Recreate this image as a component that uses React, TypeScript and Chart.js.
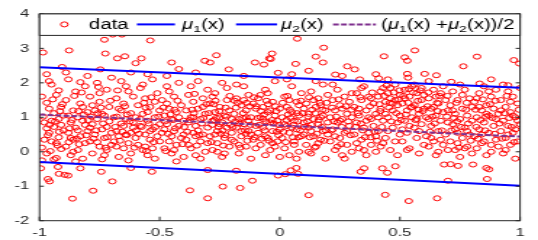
import React, { useEffect, useRef } from 'react';
import { Chart, registerables } from 'chart.js';

Chart.register(...registerables);

// ---------- data ----------
const dataPoints: [number, number][] = [
  // outliers above the upper line region
  [-0.985, 2.88], [-0.877, 2.94], [-0.73, 3.25], [-0.695, 3.4], [-0.657, 3.4], [-0.539, 3.23], [-0.726, 2.85],
  [-0.676, 2.71], [-0.645, 2.77], [-0.576, 2.71], [-0.6, 2.57], [-0.45, 2.59], [-0.312, 2.64], [-0.29, 2.59],
  [-0.264, 2.8], [-0.103, 2.59], [-0.043, 2.71], [-0.42, 2.4], [-0.747, 2.39], [-0.906, 2.46], [0.073, 3.28],
  [0.183, 3.02], [-0.032, 2.85], [0.15, 2.76], [0.18, 2.59], [0.434, 2.77], [0.52, 2.74], [0.562, 2.94],
  [0.821, 2.76], [0.974, 2.66], [-0.038, 2.69], [-0.066, 2.53], [0.066, 2.55], [0.281, 2.48], [0.312, 2.39],
  [-0.007, 2.29], [-0.212, 2.39], [0.231, 2.24], [0.531, 2.64], [0.997, 2.56], [0.764, 2.48], [0.531, 2.26],
  [0.603, 2.26], [0.652, 2.22], [0.412, 2.13], [0.534, 2.15], [0.333, 2.1], [0.714, 2.03], [0.95, 1.93], [0.832, 1.98],
  [-0.97, 2.25], [-0.89, 2.3], [-0.8, 2.2], [-0.62, 2.3], [-0.55, 2.25], [-0.47, 2.2], [-0.35, 2.3], [-0.15, 2.2],
  [0.05, 2.25], [0.12, 2.35], [0.26, 2.2], [0.45, 2.1], [0.62, 2.05], [0.88, 2.1], [0.4, 2.25],
  // outliers below
  [-0.995, -0.48], [-0.923, -0.44], [-0.919, -0.64], [-0.895, -0.67], [-0.881, -0.69], [-0.965, -0.79], [-0.958, -0.86],
  [-0.863, -1.36], [-0.777, -1.13], [-0.743, -0.58], [-0.83, -0.48], [-0.697, -0.86], [-0.62, -0.47], [-0.532, -0.58],
  [-0.374, -1.12], [-0.3, -1.35], [-0.237, -1.01], [-0.165, -1.05], [-0.114, -0.84], [-0.007, -0.69], [0.023, -0.65],
  [0.076, -0.64], [0.12, -1.26], [-0.3, -0.53], [-0.181, -0.55], [0.069, -0.47], [0.046, -0.54], [0.439, -1.25],
  [0.537, -1.43], [0.655, -1.35], [0.7, -0.84], [0.863, -0.79], [0.804, -0.37], [0.86, -0.47], [0.871, -0.51],
  [0.684, -0.37], [0.711, -0.36], [0.742, -0.41], [0.448, -0.61], [0.427, -0.48], [0.481, -0.42], [0.351, -0.48], [0.337, -0.58],
  // dense band
  [-0.99, 0.12], [-0.98, 0.85], [-0.97, 1.42], [-0.97, -0.05], [-0.96, 0.55], [-0.95, 1.95], [-0.95, 0.3], [-0.94, 1.12],
  [-0.94, 0.72], [-0.93, -0.18], [-0.93, 1.65], [-0.92, 0.42], [-0.92, 0.95], [-0.91, 1.3], [-0.91, 0.08], [-0.9, 0.62],
  [-0.99, 1.6], [-0.98, 0.35], [-0.96, 2.05], [-0.95, 0.9], [-0.94, -0.22], [-0.93, 0.25], [-0.92, 1.78], [-0.91, 0.78],
  [-0.97, 0.68], [-0.9, 1.05], [-0.96, 1.25], [-0.99, -0.25],
  [-0.89, 0.15], [-0.89, 1.5], [-0.88, 0.55], [-0.88, 2.1], [-0.87, 0.85], [-0.87, -0.1], [-0.86, 1.2], [-0.86, 0.35],
  [-0.85, 1.75], [-0.85, 0.7], [-0.84, 0.05], [-0.84, 1.0], [-0.83, 1.4], [-0.83, 0.45], [-0.82, -0.2], [-0.82, 0.9],
  [-0.81, 1.9], [-0.81, 0.25], [-0.8, 1.15], [-0.8, 0.6], [-0.88, 1.05], [-0.86, 0.0], [-0.84, 0.62], [-0.83, 2.02],
  [-0.82, 1.3], [-0.87, 0.4], [-0.85, -0.28], [-0.81, 0.78],
  [-0.79, 0.3], [-0.79, 1.6], [-0.78, 0.8], [-0.78, -0.05], [-0.77, 1.2], [-0.77, 0.5], [-0.76, 2.0], [-0.76, 0.95],
  [-0.75, 0.15], [-0.75, 1.45], [-0.74, 0.65], [-0.74, -0.22], [-0.73, 1.05], [-0.73, 0.4], [-0.72, 1.8], [-0.72, 0.05],
  [-0.71, 0.88], [-0.71, 1.3], [-0.7, 0.55], [-0.7, 2.15], [-0.78, 1.35], [-0.76, 0.28], [-0.74, 1.1], [-0.72, 0.72],
  [-0.7, 0.2], [-0.79, 0.7], [-0.75, 1.7], [-0.73, -0.1],
  [-0.69, 1.0], [-0.69, 0.3], [-0.68, 1.55], [-0.68, 0.6], [-0.67, -0.15], [-0.67, 1.25], [-0.66, 0.82], [-0.66, 2.05],
  [-0.65, 0.1], [-0.65, 1.4], [-0.64, 0.5], [-0.64, 0.95], [-0.63, 1.75], [-0.63, 0.25], [-0.62, 1.12], [-0.62, -0.05],
  [-0.61, 0.7], [-0.61, 1.6], [-0.6, 0.4], [-0.6, 1.0], [-0.68, 0.15], [-0.66, 1.2], [-0.64, 1.9], [-0.62, 0.55],
  [-0.61, 0.85], [-0.67, 0.45], [-0.63, -0.25], [-0.65, 0.75],
  [-0.59, 1.35], [-0.59, 0.2], [-0.58, 0.75], [-0.58, 1.85], [-0.57, 0.05], [-0.57, 1.1], [-0.56, 0.5], [-0.56, 1.55],
  [-0.55, -0.1], [-0.55, 0.9], [-0.54, 1.3], [-0.54, 0.35], [-0.53, 2.1], [-0.53, 0.65], [-0.52, 1.0], [-0.52, -0.2],
  [-0.51, 1.7], [-0.51, 0.45], [-0.5, 0.8], [-0.5, 1.2], [-0.58, 0.95], [-0.56, 0.15], [-0.54, 0.6], [-0.52, 1.45],
  [-0.5, 0.3], [-0.57, 1.95], [-0.55, 1.15], [-0.53, 0.1],
  [-0.49, 0.55], [-0.49, 1.5], [-0.48, 0.1], [-0.48, 1.05], [-0.47, 0.8], [-0.47, 1.9], [-0.46, 0.3], [-0.46, 1.25],
  [-0.45, -0.05], [-0.45, 0.95], [-0.44, 1.6], [-0.44, 0.6], [-0.43, 0.2], [-0.43, 1.15], [-0.42, 0.75], [-0.42, 2.0],
  [-0.41, 0.4], [-0.41, 1.35], [-0.4, -0.15], [-0.4, 0.9], [-0.48, 0.65], [-0.46, 1.75], [-0.44, 0.05], [-0.42, 1.0],
  [-0.4, 0.5], [-0.47, 1.4], [-0.45, 0.45], [-0.43, -0.28],
  [-0.39, 1.2], [-0.39, 0.35], [-0.38, 0.85], [-0.38, 1.65], [-0.37, 0.1], [-0.37, 1.0], [-0.36, 0.55], [-0.36, 1.45],
  [-0.35, -0.1], [-0.35, 0.75], [-0.34, 1.25], [-0.34, 2.05], [-0.33, 0.3], [-0.33, 0.95], [-0.32, 1.55], [-0.32, 0.5],
  [-0.31, 0.0], [-0.31, 1.1], [-0.3, 0.7], [-0.3, 1.8], [-0.38, 0.2], [-0.36, 1.0], [-0.34, 0.62], [-0.32, 1.3],
  [-0.3, 0.25], [-0.37, 1.9], [-0.35, 0.45], [-0.33, -0.2],
  [-0.29, 1.4], [-0.29, 0.45], [-0.28, 0.9], [-0.28, 0.05], [-0.27, 1.15], [-0.27, 1.7], [-0.26, 0.6], [-0.26, 0.25],
  [-0.25, 1.3], [-0.25, 0.8], [-0.24, 2.0], [-0.24, -0.15], [-0.23, 1.05], [-0.23, 0.4], [-0.22, 1.5], [-0.22, 0.7],
  [-0.21, 0.15], [-0.21, 1.2], [-0.2, 0.55], [-0.2, 0.95], [-0.28, 1.6], [-0.26, 0.0], [-0.24, 0.85], [-0.22, 1.85],
  [-0.2, 0.35], [-0.27, 0.5], [-0.25, 1.0], [-0.23, -0.05],
  [-0.19, 1.1], [-0.19, 0.3], [-0.18, 0.7], [-0.18, 1.55], [-0.17, -0.05], [-0.17, 0.95], [-0.16, 1.35], [-0.16, 0.45],
  [-0.15, 1.9], [-0.15, 0.8], [-0.14, 0.15], [-0.14, 1.2], [-0.13, 0.6], [-0.13, 1.65], [-0.12, -0.2], [-0.12, 1.0],
  [-0.11, 0.35], [-0.11, 1.4], [-0.1, 0.75], [-0.1, 0.1], [-0.18, 1.95], [-0.16, 0.6], [-0.14, 1.0], [-0.12, 0.5],
  [-0.1, 1.25], [-0.17, 0.2], [-0.15, 1.5], [-0.13, 0.9],
  [-0.09, 1.55], [-0.09, 0.55], [-0.08, 0.2], [-0.08, 1.0], [-0.07, 1.3], [-0.07, 0.7], [-0.06, -0.1], [-0.06, 1.8],
  [-0.05, 0.4], [-0.05, 1.15], [-0.04, 0.85], [-0.04, 0.05], [-0.03, 1.45], [-0.03, 0.6], [-0.02, 1.05], [-0.02, 2.05],
  [-0.01, 0.3], [-0.01, 0.9], [0.0, 1.25], [0.0, -0.15], [-0.08, 1.65], [-0.06, 0.45], [-0.04, 1.2], [-0.02, 0.15],
  [0.0, 0.65], [-0.07, 0.95], [-0.05, 1.7], [-0.03, 0.25],
  [0.01, 1.0], [0.01, 0.4], [0.02, 1.6], [0.02, 0.1], [0.03, 0.75], [0.03, 1.3], [0.04, -0.1], [0.04, 0.55],
  [0.05, 1.15], [0.05, 1.9], [0.06, 0.3], [0.06, 0.9], [0.07, 1.45], [0.07, 0.65], [0.08, 0.0], [0.08, 1.05],
  [0.09, 1.7], [0.09, 0.45], [0.1, 0.85], [0.1, 1.25], [0.02, 0.8], [0.04, 1.5], [0.06, 0.2], [0.08, 1.35],
  [0.1, 0.5], [0.03, 2.1], [0.05, 0.7], [0.07, -0.2],
  [0.11, 0.2], [0.11, 1.4], [0.12, 0.7], [0.12, 1.1], [0.13, -0.05], [0.13, 1.75], [0.14, 0.45], [0.14, 0.95],
  [0.15, 1.3], [0.15, 0.15], [0.16, 0.8], [0.16, 1.55], [0.17, 0.35], [0.17, 1.0], [0.18, 1.95], [0.18, 0.6],
  [0.19, -0.2], [0.19, 1.2], [0.2, 0.5], [0.2, 1.65], [0.12, 0.0], [0.14, 1.5], [0.16, 0.25], [0.18, 1.05],
  [0.2, 0.85], [0.13, 0.6], [0.15, 2.05], [0.17, 1.35],
  [0.21, 1.0], [0.21, 0.3], [0.22, 1.5], [0.22, 0.65], [0.23, 0.05], [0.23, 1.2], [0.24, 0.85], [0.24, 1.8],
  [0.25, 0.4], [0.25, 1.35], [0.26, -0.1], [0.26, 0.95], [0.27, 1.6], [0.27, 0.55], [0.28, 0.2], [0.28, 1.1],
  [0.29, 0.75], [0.29, 1.45], [0.3, 0.0], [0.3, 1.0], [0.22, 1.95], [0.24, 0.15], [0.26, 1.25], [0.28, 0.6],
  [0.3, 1.7], [0.23, 0.45], [0.25, 0.9], [0.27, -0.2],
  [0.31, 1.3], [0.31, 0.5], [0.32, 0.85], [0.32, 1.7], [0.33, 0.1], [0.33, 1.05], [0.34, 1.5], [0.34, 0.35],
  [0.35, 0.7], [0.35, 1.9], [0.36, -0.1], [0.36, 1.2], [0.37, 0.55], [0.37, 1.6], [0.38, 0.95], [0.38, 0.2],
  [0.39, 1.4], [0.39, 0.75], [0.4, 1.1], [0.4, 0.0], [0.32, 0.25], [0.34, 1.85], [0.36, 0.9], [0.38, 1.55],
  [0.4, 0.45], [0.33, 1.25], [0.35, 0.05], [0.37, 1.0],
  [0.41, 1.6], [0.41, 0.6], [0.42, 1.25], [0.42, 0.15], [0.43, 1.85], [0.43, 0.9], [0.44, 1.45], [0.44, 0.4],
  [0.45, 1.7], [0.45, 1.0], [0.46, 0.05], [0.46, 1.55], [0.47, 1.2], [0.47, 0.7], [0.48, 1.95], [0.48, 0.3],
  [0.49, 1.35], [0.49, 0.85], [0.5, 1.65], [0.5, 0.5], [0.42, 1.75], [0.44, 1.1], [0.46, 1.85], [0.48, 1.5],
  [0.5, 1.05], [0.43, 0.25], [0.45, 0.6], [0.47, 1.4], [0.49, -0.1], [0.41, 1.0],
  [0.51, 1.4], [0.51, 0.3], [0.52, 1.8], [0.52, 0.9], [0.53, 1.2], [0.53, 0.55], [0.54, 1.6], [0.54, 0.1],
  [0.55, 1.0], [0.55, 1.9], [0.56, 0.7], [0.56, 1.35], [0.57, 0.4], [0.57, 1.7], [0.58, 1.1], [0.58, -0.05],
  [0.59, 1.5], [0.59, 0.8], [0.6, 0.2], [0.6, 1.25], [0.52, 1.55], [0.54, 0.75], [0.56, 1.95], [0.58, 0.6],
  [0.6, 1.65], [0.53, 0.05], [0.55, 1.3], [0.57, 0.95], [0.59, 1.85], [0.51, 0.65],
  [0.61, 1.0], [0.61, 0.45], [0.62, 1.55], [0.62, 0.15], [0.63, 1.25], [0.63, 0.75], [0.64, 1.8], [0.64, 0.3],
  [0.65, 1.05], [0.65, -0.1], [0.66, 1.4], [0.66, 0.6], [0.67, 0.9], [0.67, 1.7], [0.68, 0.2], [0.68, 1.15],
  [0.69, 0.5], [0.69, 1.5], [0.7, 0.85], [0.7, 0.05], [0.62, 0.95], [0.64, 1.3], [0.66, 0.0], [0.68, 1.9],
  [0.7, 1.2], [0.63, 0.4], [0.65, 1.6], [0.67, 0.35],
  [0.71, 1.35], [0.71, 0.3], [0.72, 0.8], [0.72, 1.75], [0.73, 0.05], [0.73, 1.1], [0.74, 0.55], [0.74, 1.5],
  [0.75, -0.15], [0.75, 0.95], [0.76, 1.25], [0.76, 0.4], [0.77, 1.8], [0.77, 0.7], [0.78, 0.15], [0.78, 1.05],
  [0.79, 1.55], [0.79, 0.5], [0.8, 0.9], [0.8, -0.05], [0.72, 1.2], [0.74, 0.25], [0.76, 1.65], [0.78, 0.6],
  [0.8, 1.3], [0.73, 0.65], [0.75, 1.95], [0.77, 0.1],
  [0.81, 0.45], [0.81, 1.45], [0.82, 0.1], [0.82, 1.0], [0.83, 1.7], [0.83, 0.65], [0.84, 0.25], [0.84, 1.2],
  [0.85, 0.85], [0.85, 1.9], [0.86, -0.1], [0.86, 1.35], [0.87, 0.55], [0.87, 1.05], [0.88, 1.6], [0.88, 0.2],
  [0.89, 0.75], [0.89, 1.25], [0.9, 0.35], [0.9, 1.8], [0.82, 1.55], [0.84, 0.5], [0.86, 1.1], [0.88, 0.0],
  [0.9, 0.95], [0.83, 1.3], [0.85, 0.3], [0.87, 1.75],
  [0.91, 1.1], [0.91, 0.15], [0.92, 0.6], [0.92, 1.5], [0.93, 0.9], [0.93, -0.05], [0.94, 1.3], [0.94, 0.4],
  [0.95, 1.75], [0.95, 0.75], [0.96, 0.2], [0.96, 1.15], [0.97, 0.55], [0.97, 1.6], [0.98, 1.0], [0.98, -0.2],
  [0.99, 1.4], [0.99, 0.3], [1.0, 0.8], [1.0, 1.85], [0.92, 1.2], [0.94, 0.05], [0.96, 1.45], [0.98, 0.65],
  [0.93, 1.95], [0.95, 0.5], [0.97, 1.05], [0.99, 0.9],
  // extra core density
  [-0.965, 0.48], [-0.945, 1.52], [-0.925, 0.18], [-0.905, 1.38], [-0.985, 1.02], [-0.955, 0.02], [-0.935, 0.88], [-0.915, 1.18],
  [-0.875, 0.68], [-0.855, 1.62], [-0.835, 0.22], [-0.815, 1.08], [-0.865, 0.92], [-0.845, 0.38], [-0.825, 1.72], [-0.805, 0.48],
  [-0.785, 1.02], [-0.765, 0.62], [-0.745, 1.28], [-0.725, 0.12], [-0.705, 1.48], [-0.775, 0.38], [-0.755, 1.88], [-0.735, 0.82],
  [-0.685, 0.72], [-0.665, 0.32], [-0.645, 1.32], [-0.625, 0.88], [-0.605, 0.12], [-0.675, 1.78], [-0.655, 0.58], [-0.635, 1.08],
  [-0.585, 0.52], [-0.565, 1.42], [-0.545, 0.82], [-0.525, 0.28], [-0.505, 1.02], [-0.575, 0.72], [-0.555, 0.02], [-0.535, 1.58],
  [-0.485, 1.28], [-0.465, 0.52], [-0.445, 0.92], [-0.425, 1.48], [-0.405, 0.22], [-0.475, 0.02], [-0.455, 1.08], [-0.435, 0.68],
  [-0.385, 0.58], [-0.365, 1.22], [-0.345, 0.18], [-0.325, 0.82], [-0.305, 1.38], [-0.375, 0.92], [-0.355, 1.68], [-0.335, 0.48],
  [-0.285, 0.28], [-0.265, 0.98], [-0.245, 0.52], [-0.225, 1.28], [-0.205, 0.78], [-0.275, 1.38], [-0.255, 0.72], [-0.235, 0.18],
  [-0.185, 0.88], [-0.165, 0.12], [-0.145, 0.62], [-0.125, 1.32], [-0.105, 0.42], [-0.175, 1.42], [-0.155, 0.98], [-0.135, 0.32],
  [-0.085, 0.78], [-0.065, 1.08], [-0.045, 0.32], [-0.025, 0.82], [-0.005, 0.48], [-0.075, 0.38], [-0.055, 1.48], [-0.015, 1.18],
  [0.015, 0.58], [0.035, 1.08], [0.055, 0.42], [0.075, 0.88], [0.095, 1.12], [0.025, 0.28], [0.045, 0.98], [0.085, 0.62],
  [0.115, 0.88], [0.135, 1.22], [0.155, 0.52], [0.175, 0.72], [0.195, 1.42], [0.125, 0.42], [0.145, 0.12], [0.185, 0.32],
  [0.215, 0.62], [0.235, 1.02], [0.255, 0.22], [0.275, 1.32], [0.295, 0.48], [0.225, 0.88], [0.245, 1.52], [0.285, 0.88],
  [0.315, 0.72], [0.335, 1.58], [0.355, 0.42], [0.375, 1.32], [0.395, 0.58], [0.325, 1.12], [0.345, 0.62], [0.385, 1.72],
  [0.415, 1.38], [0.435, 1.62], [0.455, 1.28], [0.475, 1.72], [0.495, 1.52], [0.425, 0.72], [0.445, 1.92], [0.465, 0.88], [0.485, 1.12], [0.405, 0.32],
  [0.515, 1.62], [0.535, 1.42], [0.555, 1.72], [0.575, 1.48], [0.595, 1.18], [0.525, 1.08], [0.545, 1.28], [0.565, 0.92], [0.585, 1.78], [0.505, 0.92],
  [0.615, 1.32], [0.635, 1.02], [0.655, 1.42], [0.675, 0.62], [0.695, 1.02], [0.625, 0.58], [0.645, 0.82], [0.665, 1.62],
  [0.715, 0.62], [0.735, 1.42], [0.755, 0.72], [0.775, 1.22], [0.795, 0.32], [0.725, 0.98], [0.745, 0.12], [0.785, 0.82],
  [0.815, 1.22], [0.835, 0.92], [0.855, 0.62], [0.875, 1.38], [0.895, 0.52], [0.825, 0.38], [0.845, 1.52], [0.885, 0.98],
  [0.915, 0.82], [0.935, 1.12], [0.955, 0.98], [0.975, 0.28], [0.995, 1.22], [0.925, 0.38], [0.945, 1.62], [0.965, 0.72],
  // central cluster (dense area around x -0.3..0.2)
  [-0.295, 1.12], [-0.282, 0.78], [-0.268, 1.48], [-0.252, 1.18], [-0.238, 0.62], [-0.222, 1.02], [-0.208, 1.62], [-0.196, 0.72],
  [-0.182, 1.28], [-0.168, 0.82], [-0.152, 1.12], [-0.138, 1.42], [-0.122, 0.78], [-0.108, 1.58], [-0.092, 0.98], [-0.078, 1.18],
  [-0.062, 0.62], [-0.048, 1.38], [-0.032, 0.92], [-0.018, 1.32], [-0.004, 0.78], [0.012, 1.42], [0.028, 0.92], [0.042, 1.22],
  [0.058, 0.78], [0.072, 1.12], [0.088, 1.48], [0.102, 0.72], [0.118, 1.02], [0.132, 0.78], [0.148, 1.12], [0.162, 0.92],
  [0.178, 1.22], [0.192, 0.62], [-0.272, 0.92], [-0.228, 0.48], [-0.188, 1.48], [-0.142, 0.52], [-0.098, 1.32], [-0.058, 0.88],
  [-0.012, 0.58], [0.032, 1.62], [0.078, 0.42], [0.122, 1.58], [0.168, 1.42], [-0.318, 0.98], [-0.358, 1.12], [-0.398, 0.72],
  [-0.438, 1.22], [-0.478, 0.88], [-0.518, 0.72], [-0.558, 1.28], [-0.598, 0.62], [-0.638, 0.48], [-0.678, 1.02], [-0.718, 0.42],
  [-0.758, 1.12], [-0.798, 0.92], [-0.838, 1.18], [-0.878, 0.28], [-0.918, 0.58], [-0.958, 0.78], [0.218, 1.28], [0.258, 0.72],
  [0.298, 1.22], [0.338, 0.82], [0.378, 0.42], [0.418, 1.18], [0.458, 1.42], [0.498, 1.78], [0.538, 1.82], [0.578, 1.22],
  [0.618, 1.72], [0.658, 1.18], [0.698, 1.62], [0.738, 0.88], [0.778, 1.42], [0.818, 0.72], [0.858, 1.02], [0.898, 1.48],
];

const lineX = [-1, 1];
const mu1Y = [2.45, 1.86];
const mu2Y = [-0.295, -0.985];
const midY = [1.08, 0.44];

const xTicks = [-1, -0.5, 0, 0.5, 1];
const xTickLabels = ['-1', '-0.5', '0', '0.5', '1'];
const yTicks = [-2, -1, 0, 1, 2, 3, 4];
const yTickLabels = ['-2', '-1', '0', '1', '2', '3', '4'];
const legendLabels = ['data', 'μ_1(x)', 'μ_2(x)', '(μ_1(x) +μ_2(x))/2'];

// ---------- rendering setup ----------
const STRETCH = 1.45; // reference is horizontally stretched
const CW = Math.round(538 / STRETCH);
const CH = 240;
const FONT = '"Liberation Sans", Arial, Helvetica, sans-serif';
const AXIS_COLOR = '#262626';
const RED = '#ff0000';
const BLUE = '#0000ff';
const PURPLE = '#7e2f8e';
const DASH = [4, 1.5];

function drawRich(ctx: CanvasRenderingContext2D, text: string, x: number, baseY: number, size: number) {
  let cx = x;
  let i = 0;
  ctx.textBaseline = 'alphabetic';
  ctx.textAlign = 'left';
  while (i < text.length) {
    const ch = text[i];
    if (ch === '_') {
      const sub = text[i + 1];
      ctx.font = `${size * 0.7}px ${FONT}`;
      ctx.fillText(sub, cx, baseY + 2.5);
      cx += ctx.measureText(sub).width;
      i += 2;
      continue;
    }
    ctx.font = ch === 'μ' ? `italic ${size}px ${FONT}` : `${size}px ${FONT}`;
    ctx.fillText(ch, cx, baseY);
    cx += ctx.measureText(ch).width;
    i += 1;
  }
}

const framePlugin = {
  id: 'matlabFrame',
  afterDatasetsDraw(chart: any) {
    const { ctx, chartArea: a, scales } = chart;
    ctx.save();
    const seg = (x1: number, y1: number, x2: number, y2: number) => {
      ctx.beginPath();
      ctx.moveTo(x1, y1);
      ctx.lineTo(x2, y2);
      ctx.stroke();
    };
    ctx.strokeStyle = AXIS_COLOR;
    ctx.lineWidth = 1;
    for (const v of xTicks) {
      const px = scales.x.getPixelForValue(v);
      seg(px, a.bottom, px, a.bottom - 4);
      seg(px, a.top, px, a.top + 4);
    }
    for (const v of yTicks) {
      const py = scales.y.getPixelForValue(v);
      seg(a.left, py, a.left + 3, py);
      seg(a.right, py, a.right - 3, py);
    }
    ctx.strokeRect(a.left, a.top, a.right - a.left, a.bottom - a.top);

    // legend box
    const lh = 21.5;
    ctx.fillStyle = '#ffffff';
    ctx.fillRect(a.left, a.top, a.right - a.left, lh);
    ctx.strokeStyle = AXIS_COLOR;
    ctx.lineWidth = 1;
    ctx.strokeRect(a.left, a.top, a.right - a.left, lh);
    const cy = a.top + 10.5;
    const L = a.left;
    // data marker
    ctx.strokeStyle = RED;
    ctx.lineWidth = 1;
    ctx.beginPath();
    ctx.arc(L + 17.1, cy, 2.5, 0, Math.PI * 2);
    ctx.stroke();
    ctx.fillStyle = '#000000';
    drawRich(ctx, legendLabels[0], L + 34.1, cy + 5, 14);
    // mu1
    ctx.strokeStyle = BLUE;
    ctx.lineWidth = 2;
    seg(L + 67.2, cy, L + 93.4, cy);
    ctx.fillStyle = '#000000';
    drawRich(ctx, legendLabels[1], L + 98.3, cy + 5, 14);
    // mu2
    ctx.strokeStyle = BLUE;
    ctx.lineWidth = 2;
    seg(L + 135.5, cy, L + 163.8, cy);
    ctx.fillStyle = '#000000';
    drawRich(ctx, legendLabels[2], L + 166.6, cy + 5, 14);
    // mid
    ctx.strokeStyle = PURPLE;
    ctx.lineWidth = 2;
    ctx.setLineDash(DASH);
    seg(L + 202.4, cy, L + 232, cy);
    ctx.setLineDash([]);
    ctx.fillStyle = '#000000';
    drawRich(ctx, legendLabels[3], L + 235.5, cy + 5, 14);
    ctx.restore();
  },
};

export default function App() {
  const ref = useRef<HTMLCanvasElement | null>(null);

  useEffect(() => {
    document.body.style.margin = '0';
    const canvas = ref.current;
    if (!canvas) return;
    const toXY = (ys: number[]) => lineX.map((x, i) => ({ x, y: ys[i] }));
    const chart = new Chart(canvas, {
      type: 'scatter',
      data: {
        datasets: [
          {
            label: legendLabels[0],
            data: dataPoints.map(([x, y]) => ({ x, y })),
            pointStyle: 'circle',
            pointRadius: 2.5,
            pointHoverRadius: 2.5,
            borderWidth: 1,
            borderColor: RED,
            backgroundColor: 'rgba(0,0,0,0)',
            order: 4,
          } as any,
          {
            label: legendLabels[1],
            data: toXY(mu1Y),
            showLine: true,
            pointRadius: 0,
            borderColor: BLUE,
            borderWidth: 2,
            order: 2,
          } as any,
          {
            label: legendLabels[2],
            data: toXY(mu2Y),
            showLine: true,
            pointRadius: 0,
            borderColor: BLUE,
            borderWidth: 2,
            order: 3,
          } as any,
          {
            label: legendLabels[3],
            data: toXY(midY),
            showLine: true,
            pointRadius: 0,
            borderColor: PURPLE,
            borderWidth: 2,
            borderDash: DASH,
            order: 1,
          } as any,
        ],
      },
      options: {
        animation: false,
        responsive: false,
        devicePixelRatio: 1,
        events: [],
        layout: { padding: { top: 9.5, right: CW - 358.6, left: 0, bottom: 0 } },
        plugins: { legend: { display: false }, tooltip: { enabled: false } },
        scales: {
          x: {
            type: 'linear',
            min: -1,
            max: 1,
            afterFit: (s: any) => { s.height = CH - 220.7; },
            afterBuildTicks: (s: any) => { s.ticks = xTicks.map((v) => ({ value: v })); },
            grid: { display: false, drawTicks: false },
            border: { display: false },
            ticks: {
              padding: 5,
              color: AXIS_COLOR,
              font: { family: FONT, size: 11.5 },
              maxRotation: 0,
              autoSkip: false,
              callback: (v: any) => {
                const i = xTicks.indexOf(Number(v));
                return i >= 0 ? xTickLabels[i] : '';
              },
            },
          },
          y: {
            type: 'linear',
            min: -2,
            max: 4,
            afterFit: (s: any) => { s.width = 27.24; },
            afterBuildTicks: (s: any) => { s.ticks = yTicks.map((v) => ({ value: v })); },
            grid: { display: false, drawTicks: false },
            border: { display: false },
            ticks: {
              padding: 7,
              color: AXIS_COLOR,
              font: { family: FONT, size: 11.5 },
              autoSkip: false,
              callback: (v: any) => {
                const i = yTicks.indexOf(Number(v));
                return i >= 0 ? yTickLabels[i] : '';
              },
            },
          },
        },
      } as any,
      plugins: [framePlugin],
    });
    return () => chart.destroy();
  }, []);

  return (
    <canvas
      ref={ref}
      width={CW}
      height={CH}
      style={{ width: '538px', height: '240px', display: 'block' }}
    />
  );
}
